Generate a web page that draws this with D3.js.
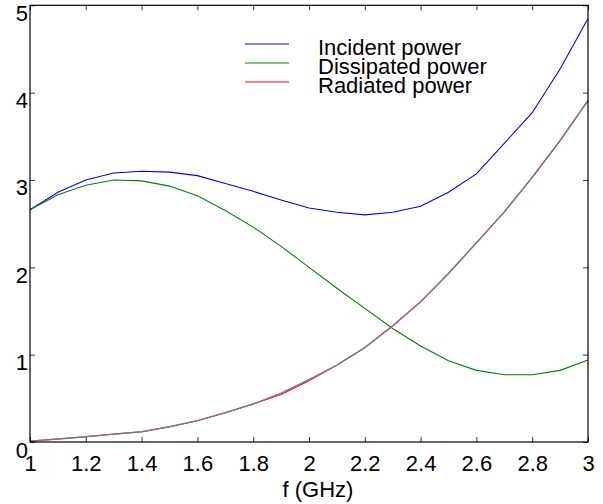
<!DOCTYPE html>
<html><head><meta charset="utf-8">
<script src="https://cdn.jsdelivr.net/npm/d3@7"></script>
<style>html,body{margin:0;padding:0;background:#fff;}svg{display:block;}text{font-family:"Liberation Sans",Arial,Helvetica,sans-serif;}</style>
</head><body>
<svg id="c" width="603" height="504"></svg>
<script>
const freq = [1.0,1.1,1.2,1.3,1.4,1.5,1.6,1.7,1.8,1.9,2.0,2.1,2.2,2.3,2.4,2.5,2.6,2.7,2.8,2.9,3.0];
const incident = [2.66,2.86,3.0,3.08,3.10,3.09,3.05,2.96,2.87,2.77,2.68,2.63,2.60,2.63,2.70,2.86,3.07,3.42,3.77,4.27,4.85];
const dissipated = [2.66,2.83,2.94,3.0,2.99,2.93,2.82,2.65,2.46,2.24,2.0,1.76,1.53,1.30,1.10,0.93,0.82,0.77,0.77,0.82,0.94];
const radiated = [0.01,0.034,0.06,0.09,0.118,0.175,0.244,0.336,0.435,0.545,0.70,0.88,1.08,1.33,1.605,1.93,2.28,2.635,3.03,3.45,3.91];
const overlay = [0.01,0.034,0.06,0.09,0.118,0.175,0.244,0.336,0.435,0.56,0.715,0.88,1.08,1.33,1.605,1.93,2.28,2.635,3.03,3.45,3.91];
const xTicks = [1,1.2,1.4,1.6,1.8,2,2.2,2.4,2.6,2.8,3];
const yTicks = [0,1,2,3,4,5];
const legendLabels = ["Incident power","Dissipated power","Radiated power"];
const colors = ["#0000ff","#008000","#ff0000"];

const svg = d3.select("#c");
const L=30,R=588,T=5.3,B=442;
const x = d3.scaleLinear().domain([1,3]).range([L,R]);
const y = d3.scaleLinear().domain([0,5]).range([B,T]);
const fmt = d => String(+d.toFixed(1));

const line = d3.line().x((d,i)=>x(freq[i])).y(d=>y(d));
const g = svg.append("g");
[[incident,colors[0],1.1],[dissipated,colors[1],1.1],[radiated,colors[2],1.1],[overlay,"#7e7878",1.4]].forEach(([s,c,w])=>{
  g.append("path").attr("d",line(s)).attr("fill","none").attr("stroke",c).attr("stroke-width",w);
});

const tk = 5;
const axB = d3.axisBottom(x).tickValues(xTicks).tickSize(-tk).tickFormat(fmt);
const axT = d3.axisTop(x).tickValues(xTicks).tickSize(-tk).tickFormat("");
const axL = d3.axisLeft(y).tickValues(yTicks).tickSize(-tk).tickFormat(d3.format("d"));
const axR = d3.axisRight(y).tickValues(yTicks).tickSize(-tk).tickFormat("");
function style(sel){sel.select(".domain").remove();sel.selectAll("line").attr("stroke","#333");}
const gb = svg.append("g").attr("transform",`translate(0,${B})`).call(axB).call(style);
gb.selectAll("text").attr("font-size",22).attr("fill","#000").attr("font-family","Liberation Sans, Arial, sans-serif").attr("y",null).attr("dy",null).attr("transform","translate(0,29)");
svg.append("g").attr("transform",`translate(0,${T})`).call(axT).call(style);
const gl = svg.append("g").attr("transform",`translate(${L},0)`).call(axL).call(style);
gl.selectAll("text").attr("font-size",22).attr("fill","#000").attr("font-family","Liberation Sans, Arial, sans-serif").attr("x",-2).attr("dy",null).attr("transform","translate(0,15)");
svg.append("g").attr("transform",`translate(${R},0)`).call(axR).call(style);

svg.append("rect").attr("x",L).attr("y",T).attr("width",R-L).attr("height",B-T).attr("fill","none").attr("stroke","#000").attr("stroke-width",1.2);

svg.append("text").attr("x",318).attr("y",497).attr("text-anchor","middle").attr("font-size",22).text("f (GHz)");

const lg = svg.append("g");
legendLabels.forEach((lab,i)=>{
  const yy = 44 + i*19;
  lg.append("line").attr("x1",245).attr("x2",289).attr("y1",yy).attr("y2",yy).attr("stroke",colors[i]).attr("stroke-width",1.1);
  lg.append("text").attr("x",318).attr("y",yy+11).attr("font-size",22).text(lab);
});
</script>
</body></html>
